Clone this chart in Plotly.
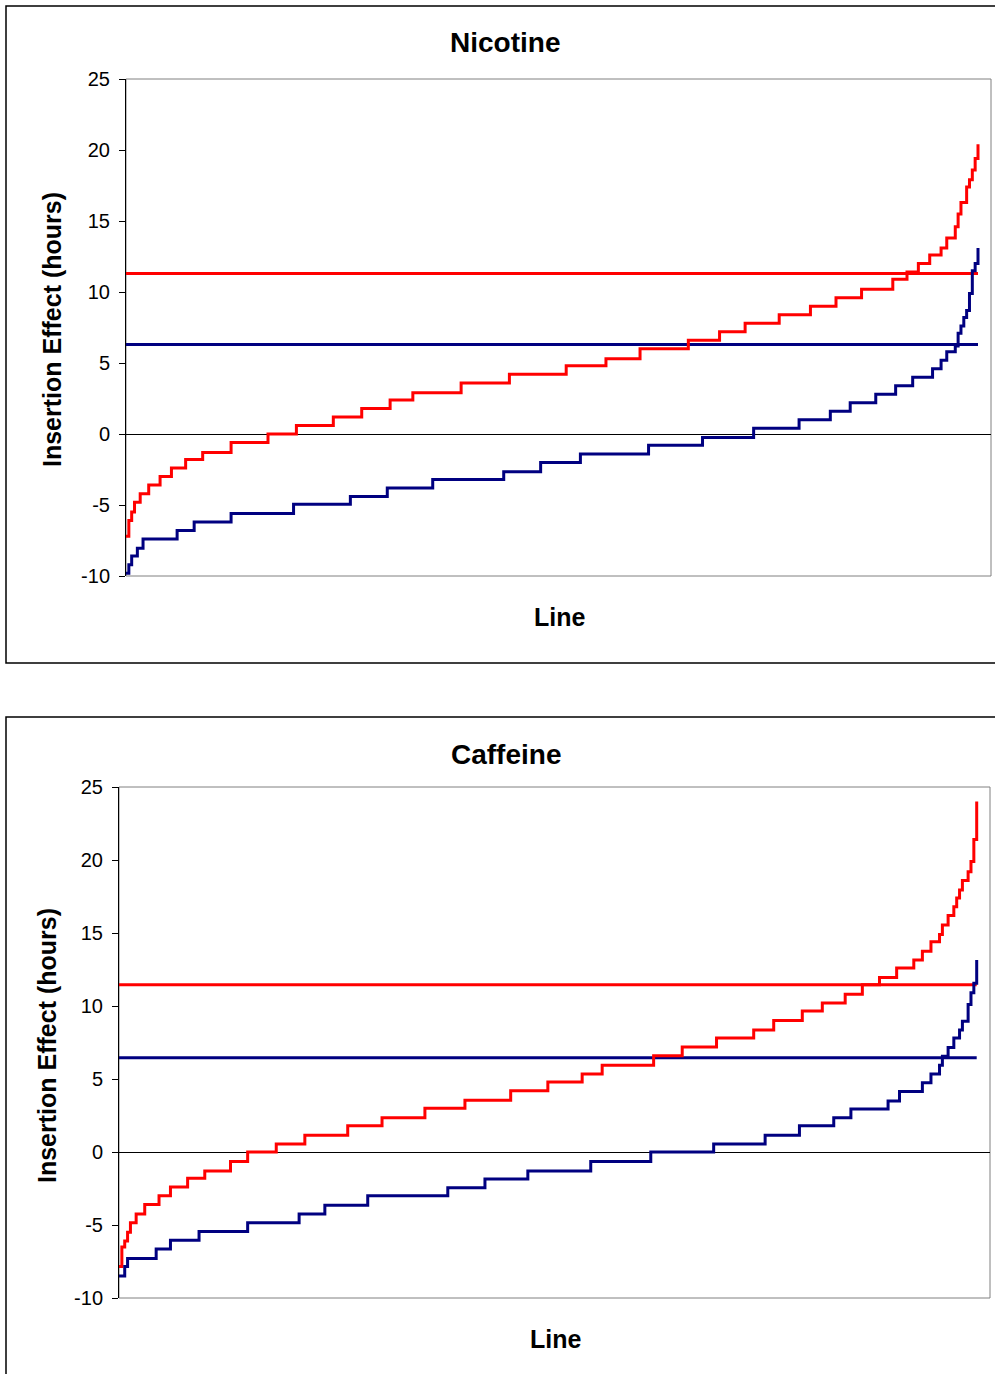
import plotly.graph_objects as go

W, H = 995, 1374

# ---------------- data (line rank where each level starts, insertion effect in hours) ----------------
N_LINES = 300

nic_red_rank = [0, 1, 2, 3, 5, 8, 12, 16, 21, 27, 37, 50, 60, 73, 83, 93, 101, 118, 135, 155,
                169, 181, 198, 209, 218, 230, 241, 250, 259, 270, 275, 279, 283, 287, 289, 292,
                293, 294, 296, 297, 298, 299, 300]
nic_red_val = [-7.2, -6.1, -5.5, -4.8, -4.2, -3.6, -3.0, -2.4, -1.8, -1.3, -0.6, 0.0, 0.6, 1.2,
               1.8, 2.4, 2.9, 3.6, 4.2, 4.8, 5.3, 6.0, 6.6, 7.2, 7.8, 8.4, 9.0, 9.6, 10.2, 10.9,
               11.4, 12.0, 12.6, 13.1, 13.8, 14.6, 15.5, 16.3, 17.4, 17.9, 18.6, 19.4, 20.4]

nic_blue_rank = [0, 1, 2, 4, 6, 18, 24, 37, 59, 79, 92, 108, 133, 146, 160, 184, 203, 221, 237,
                 248, 255, 264, 271, 277, 284, 287, 289, 292, 293, 294, 295, 296, 297, 298, 299, 300]
nic_blue_val = [-9.8, -9.2, -8.6, -8.05, -7.4, -6.8, -6.2, -5.6, -4.95, -4.4, -3.8, -3.2, -2.65,
                -2.0, -1.4, -0.8, -0.25, 0.4, 1.0, 1.6, 2.2, 2.8, 3.4, 4.0, 4.6, 5.2, 5.8, 6.2,
                7.1, 7.6, 8.2, 8.7, 9.9, 11.5, 12.0, 13.1]

nic_red_mean = 11.3
nic_blue_mean = 6.3

caf_red_rank = [0, 1, 2, 3, 4, 6, 9, 14, 18, 24, 30, 39, 45, 55, 65, 80, 92, 107, 121, 137,
                150, 162, 169, 187, 197, 209, 222, 229, 239, 246, 254, 260, 266, 272, 278, 281,
                284, 287, 288, 290, 292, 293, 294, 295, 297, 298, 299, 300]
caf_red_val = [-7.85, -6.5, -6.1, -5.5, -4.85, -4.25, -3.6, -3.0, -2.4, -1.8, -1.3, -0.65, 0.0,
               0.55, 1.15, 1.8, 2.35, 3.0, 3.55, 4.2, 4.8, 5.35, 5.95, 6.6, 7.2, 7.8, 8.35, 9.0,
               9.65, 10.2, 10.8, 11.45, 11.95, 12.6, 13.15, 13.75, 14.4, 14.9, 15.55, 16.2,
               16.8, 17.4, 17.95, 18.6, 19.2, 19.9, 21.4, 24.0]

caf_blue_rank = [0, 2, 3, 13, 18, 28, 45, 63, 72, 87, 115, 128, 143, 165, 186, 208, 226, 238,
                 250, 256, 269, 273, 281, 284, 287, 288, 290, 292, 294, 295, 297, 298, 299, 300]
caf_blue_val = [-8.5, -7.85, -7.3, -6.65, -6.05, -5.45, -4.85, -4.25, -3.65, -3.0, -2.45, -1.85,
                -1.3, -0.65, 0.0, 0.55, 1.15, 1.8, 2.35, 2.95, 3.5, 4.15, 4.75, 5.35, 5.95, 6.55,
                7.15, 7.8, 8.35, 8.95, 10.1, 10.9, 11.55, 13.15]

caf_red_mean = 11.45
caf_blue_mean = 6.45

titles = ["Nicotine", "Caffeine"]
x_title = "Line"
y_title = "Insertion Effect (hours)"
y_ticks = [-10, -5, 0, 5, 10, 15, 20, 25]

RED = "#FF0000"
NAVY = "#000080"
FONT = "Liberation Sans, Arial, sans-serif"

# ---------------- layout geometry (pixels) ----------------
panels = [
    dict(px=(126, 991), py=(79, 576), xend=978, title_xy=(505, 43), xt_xy=(559, 617),
         yt_xy=(52, 330), box=(6, 6, 663)),
    dict(px=(119, 990), py=(787, 1298), xend=976.7, title_xy=(506, 754), xt_xy=(555, 1339),
         yt_xy=(47, 1046), box=(6, 717, 1400)),
]
data = [
    (nic_red_rank, nic_red_val, nic_blue_rank, nic_blue_val, nic_red_mean, nic_blue_mean),
    (caf_red_rank, caf_red_val, caf_blue_rank, caf_blue_val, caf_red_mean, caf_blue_mean),
]

fig = go.Figure()
shapes = []
annotations = []

for i, (p, d) in enumerate(zip(panels, data)):
    xa = "x" if i == 0 else "x2"
    ya = "y" if i == 0 else "y2"
    rr, rv, br, bv, rm, bm = d
    # mean lines
    fig.add_trace(go.Scatter(x=[0, N_LINES], y=[rm, rm], mode="lines",
                             line=dict(color=RED, width=3), xaxis=xa, yaxis=ya, showlegend=False))
    fig.add_trace(go.Scatter(x=[0, N_LINES], y=[bm, bm], mode="lines",
                             line=dict(color=NAVY, width=3), xaxis=xa, yaxis=ya, showlegend=False))
    # step curves
    fig.add_trace(go.Scatter(x=rr, y=rv, mode="lines", line=dict(color=RED, width=3, shape="hv"),
                             xaxis=xa, yaxis=ya, showlegend=False))
    fig.add_trace(go.Scatter(x=br, y=bv, mode="lines", line=dict(color=NAVY, width=3, shape="hv"),
                             xaxis=xa, yaxis=ya, showlegend=False))

    x0, x1 = p["px"]
    y0, y1 = p["py"]
    xmax = N_LINES * (x1 - x0) / (p["xend"] - x0)
    xkey = "xaxis" if i == 0 else "xaxis2"
    ykey = "yaxis" if i == 0 else "yaxis2"
    fig.update_layout(**{
        xkey: dict(domain=[x0 / W, x1 / W], range=[0, xmax], showticklabels=False,
                   showgrid=False, zeroline=False, showline=False, ticks="",
                   anchor=ya, fixedrange=True, automargin=False),
        ykey: dict(domain=[1 - y1 / H, 1 - y0 / H], range=[-10, 25], tickvals=y_ticks,
                   ticktext=[str(t) for t in y_ticks], showgrid=False,
                   zeroline=True, zerolinecolor="#000000", zerolinewidth=1,
                   showline=True, linecolor="#000000", linewidth=1,
                   ticks="outside", ticklen=6, tickcolor="#000000", tickwidth=1,
                   tickfont=dict(family=FONT, size=20, color="#000000"),
                   ticklabelstandoff=5, anchor=xa, fixedrange=True, automargin=False),
    })
    # plot area border (gray)
    shapes.append(dict(type="rect", xref=f"{xa} domain", yref=f"{ya} domain",
                       x0=0, x1=1, y0=0, y1=1, line=dict(color="#808080", width=1),
                       layer="below"))
    # outer chart frame
    bx, by0, by1 = p["box"]
    shapes.append(dict(type="rect", xref="paper", yref="paper",
                       x0=bx / W, x1=1.05, y0=1 - by1 / H, y1=1 - by0 / H,
                       line=dict(color="#000000", width=1.5), layer="below"))
    tx, ty = p["title_xy"]
    annotations.append(dict(text=f"<b>{titles[i]}</b>", x=tx / W, y=1 - ty / H, xref="paper",
                            yref="paper", xanchor="center", yanchor="middle", showarrow=False,
                            font=dict(family=FONT, size=28, color="#000000")))
    ax_, ay_ = p["xt_xy"]
    annotations.append(dict(text=f"<b>{x_title}</b>", x=ax_ / W, y=1 - ay_ / H, xref="paper",
                            yref="paper", xanchor="center", yanchor="middle", showarrow=False,
                            font=dict(family=FONT, size=25, color="#000000")))
    yx, yy = p["yt_xy"]
    annotations.append(dict(text=f"<b>{y_title}</b>", x=yx / W, y=1 - yy / H, xref="paper",
                            yref="paper", xanchor="center", yanchor="middle", showarrow=False,
                            textangle=-90,
                            font=dict(family=FONT, size=25, color="#000000")))

fig.update_layout(width=W, height=H, margin=dict(l=0, r=0, t=0, b=0, pad=0, autoexpand=False),
                  paper_bgcolor="white", plot_bgcolor="white",
                  shapes=shapes, annotations=annotations, showlegend=False)

fig.write_html("out.html")
